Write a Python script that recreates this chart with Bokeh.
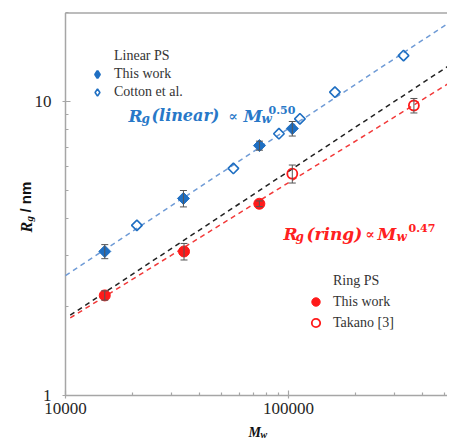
import numpy as np
from bokeh.plotting import figure
from bokeh.models import (FixedTicker, CustomJSTickFormatter, Label, Legend,
                          LegendItem, Whisker, TeeHead, ColumnDataSource, Range1d)
from bokeh.embed import file_html
from bokeh.resources import INLINE

# ---------------- data ----------------
linear_mw = [15000, 33800, 74100, 104000]
linear_rg = [3.09, 4.68, 7.08, 8.09]
linear_err = [0.17, 0.30, 0.25, 0.46]

cotton_mw = [20900, 56600, 90600, 112500, 161500, 328000]
cotton_rg = [3.79, 5.92, 7.77, 8.73, 10.76, 14.33]

ring_mw = [15000, 34000, 74000]
ring_rg = [2.19, 3.09, 4.49]
ring_err = [0.08, 0.20, 0.10]

takano_mw = [104000, 365000]
takano_rg = [5.68, 9.69]
takano_err = [0.40, 0.55]

# power-law fits  Rg = coef * Mw**exp  (start of each fitted line)
linear_fit = {"coef": 0.02559, "exp": 0.50, "mw_start": 10000}
ideal_ring_fit = {"coef": 0.0183, "exp": 0.50, "mw_start": 10500}
ring_fit = {"coef": 0.02366, "exp": 0.47, "mw_start": 10500}

x_major = [10000, 100000]
x_minor = [20000, 30000, 40000, 50000, 60000, 70000, 80000, 90000,
           200000, 300000, 400000, 500000]
y_major = [1, 10]
y_minor = [2, 3, 4, 5, 6, 7, 8, 9, 20]
x_axis_min, y_axis_min, y_axis_max = 10000, 1, 20

# ---------------- layout (pixels) ----------------
CW, CH = 447, 440          # canvas
PL, PB = 65, 395           # plot-area left / bottom on the canvas
DX, DY = 223, 294          # pixels per decade
x_start = x_axis_min * 10 ** (-PL / DX)
x_end = x_axis_min * 10 ** ((CW - PL) / DX)
y_start = y_axis_min * 10 ** (-(CH - PB) / DY)
y_end = y_axis_min * 10 ** (PB / DY)

BLUE = "#1f6fc2"
BLUE_LINE = "#6f9bd6"
RED = "#ff1a1a"
RED_LINE = "#f23a3a"
AXIS = "#a6a6a6"
ERR = "#555555"
SERIF = "Liberation Serif"
MATH = "DejaVu Serif"

p = figure(x_axis_type="log", y_axis_type="log",
           x_range=Range1d(x_start, x_end), y_range=Range1d(y_start, y_end),
           width=CW, height=CH, min_border=0,
           output_backend="svg", toolbar_location=None,
           background_fill_color="white", border_fill_color="white")
p.outline_line_color = None
p.grid.visible = False

fmt = CustomJSTickFormatter(code="return tick.toString();")
for ax, maj, mino in ((p.xaxis[0], x_major, x_minor), (p.yaxis[0], y_major, y_minor)):
    ax.ticker = FixedTicker(ticks=maj, minor_ticks=mino)
    ax.formatter = fmt
    ax.axis_line_color = None
    ax.major_tick_line_color = AXIS
    ax.minor_tick_line_color = AXIS
    ax.major_tick_line_width = 1.2
    ax.minor_tick_line_width = 1.2
    ax.major_tick_in = 5
    ax.major_tick_out = 3
    ax.minor_tick_in = 3
    ax.minor_tick_out = 0
    ax.major_label_text_font = SERIF
    ax.major_label_text_font_size = "17px"
    ax.major_label_text_color = "#262626"
p.xaxis[0].fixed_location = y_axis_min
p.yaxis[0].fixed_location = x_axis_min
p.xaxis[0].major_label_standoff = 4
p.yaxis[0].major_label_standoff = 11

# axis frame lines: left, bottom, top
p.segment(x0=[x_axis_min, x_axis_min, x_axis_min], y0=[y_axis_min, y_axis_min, y_axis_max],
          x1=[x_axis_min, x_end, x_end], y1=[y_axis_max, y_axis_min, y_axis_max],
          line_color=AXIS, line_width=1.5)

# fit lines
for fit, col in ((linear_fit, BLUE_LINE), (ideal_ring_fit, "#222222"), (ring_fit, RED_LINE)):
    xs = np.array([fit["mw_start"], x_end], dtype=float)
    ys = fit["coef"] * xs ** fit["exp"]
    p.line(xs, ys, line_color=col, line_width=1.5, line_dash="5 4")

# error bars
def add_err(mw, rg, err):
    src = ColumnDataSource(dict(x=mw, lo=[a - b for a, b in zip(rg, err)],
                                hi=[a + b for a, b in zip(rg, err)]))
    w = Whisker(source=src, base="x", lower="lo", upper="hi", line_color=ERR, line_width=1,
                upper_head=TeeHead(size=7, line_color=ERR, line_width=1),
                lower_head=TeeHead(size=7, line_color=ERR, line_width=1), level="glyph")
    p.add_layout(w)

add_err(linear_mw, linear_rg, linear_err)
add_err(ring_mw, ring_rg, ring_err)
add_err(takano_mw, takano_rg, takano_err)

# points
p.scatter(linear_mw, linear_rg, marker="square", angle=np.pi / 4, size=8.5,
          fill_color=BLUE, line_color=BLUE, line_width=1)
p.scatter(cotton_mw, cotton_rg, marker="square", angle=np.pi / 4, size=7.5,
          fill_color="white", fill_alpha=0, line_color=BLUE, line_width=1.6)
r_ring = p.scatter(ring_mw, ring_rg, marker="circle", size=11, fill_color=RED, line_color=RED)
r_tak = p.scatter(takano_mw, takano_rg, marker="circle", size=10, fill_color=None,
                  line_color=RED, line_width=1.8)

# legend-only renderers (hidden in the plot, drawn only as legend glyphs)
hdr1 = p.line(linear_mw, linear_rg, line_alpha=0)
hdr2 = p.line(ring_mw, ring_rg, line_alpha=0)
lg_lin = p.scatter(linear_mw, linear_rg, marker="diamond", fill_color=BLUE, line_color=BLUE,
                   line_width=2.2, visible=False)
lg_cot = p.scatter(cotton_mw, cotton_rg, marker="diamond", fill_color=None, line_color=BLUE,
                   line_width=1.6, visible=False)

def make_legend(items, loc, gh, standoff):
    lg = Legend(items=items, location=loc, orientation="vertical",
                glyph_width=gh, glyph_height=gh, label_height=gh, spacing=0,
                label_standoff=standoff, padding=0, margin=0,
                border_line_color=None, background_fill_alpha=0,
                label_text_font=SERIF, label_text_font_size="14px",
                label_text_color="#333333")
    p.add_layout(lg, "center")

make_legend([LegendItem(label="Linear PS", renderers=[hdr1]),
             LegendItem(label="This work", renderers=[lg_lin]),
             LegendItem(label="Cotton et al.", renderers=[lg_cot])],
            (88, CH - 101), 18, 8)
make_legend([LegendItem(label="Ring PS", renderers=[hdr2]),
             LegendItem(label="This work", renderers=[r_ring]),
             LegendItem(label="Takano [3]", renderers=[r_tak])],
            (305, CH - 333), 21, 7)

# text helper: canvas pixel position (from top-left) of the text's baseline start
def txt(s, px, py, size, color, font=MATH, style="bold italic", angle=0.0):
    p.add_layout(Label(x=px, y=CH - py, x_units="screen", y_units="screen", text=s,
                       text_font=font, text_font_style=style, text_font_size=f"{size}px",
                       text_color=color, text_baseline="alphabetic", text_align="left",
                       angle=angle))

TB = "#2878c8"
txt("R", 128, 115, 17, TB)
txt("g", 141, 118, 12, TB)
txt("(linear)", 151, 115, 16, TB)
txt("∝", 228, 115, 14, TB, style="bold")
txt("M", 243, 115, 17, TB)
txt("w", 261, 118, 12, TB)
txt("0.50", 268, 109, 11, TB, style="bold")

TR = "#ff2020"
txt("R", 283, 233, 17, TR)
txt("g", 295, 236, 12, TR)
txt("(ring)", 306, 233, 17, TR)
txt("∝", 365, 233, 14, TR, style="bold")
txt("M", 377, 233, 17, TR)
txt("w", 396, 236, 12, TR)
txt("0.47", 408, 227, 11, TR, style="bold")

# axis titles
txt("M", 248, 432, 14, "#111111", font=SERIF)
txt("w", 260, 434, 10, "#111111", font=SERIF)
ang = np.pi / 2
txt("R", 26, 232, 16, "#111111", font=SERIF, angle=ang)
txt("g", 28, 221, 11, "#111111", font=SERIF, angle=ang)
txt("/ nm", 25, 212, 15, "#111111", font="Liberation Sans", style="bold", angle=ang)

open("out.html", "w").write(file_html(p, INLINE))
